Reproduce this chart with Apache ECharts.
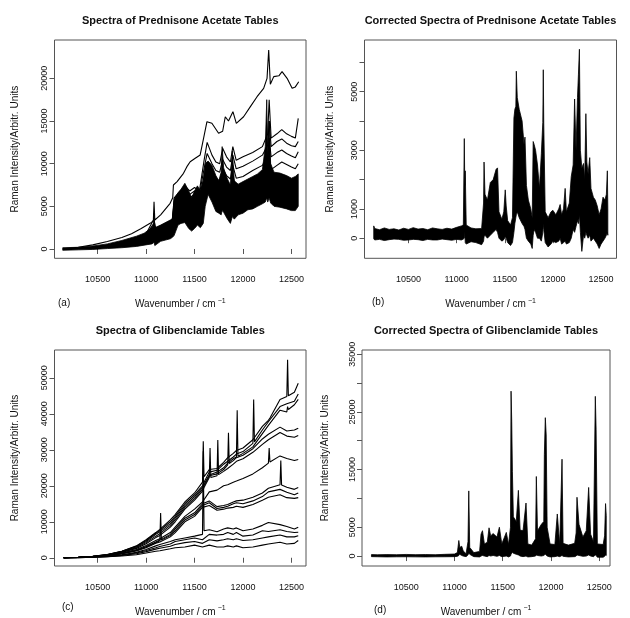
<!DOCTYPE html>
<html>
<head>
<meta charset="utf-8">
<script src="https://cdn.jsdelivr.net/npm/echarts@6/dist/echarts.min.js"></script>
<style>
html, body { margin: 0; padding: 0; background: #fff; }
#chart-container { width: 630px; height: 618px; }
</style>
</head>
<body>
<div id="chart-container"></div>
<script>
// ---- panel (a): raw spectra, prednisone acetate ----
// dense lower bundle of spectra, read as lower / upper envelope
const bandAX = [10140,10300,10450,10600,10750,10900,10980,11060,11075,11082,11090,11150,11250,11275,11290,11330,11360,11400,11440,11470,11500,11530,11560,11590,11610,11640,11680,11720,11750,11775,11785,11800,11840,11870,11890,11910,11950,12000,12050,12100,12150,12200,12230,12245,12255,12270,12285,12320,12380,12450,12500,12540,12570]
const bandALo = [-150,-100,-50,50,150,300,450,600,700,800,400,900,1200,1400,1600,2800,3000,3100,2400,2100,2400,2800,2500,3000,5000,6400,5500,4400,4200,4000,4500,4300,3500,3000,3800,3500,4000,4200,4600,4700,5000,5300,5500,6000,5500,6000,5400,5000,4900,4700,4500,4500,5000]
const bandAHi = [150,200,350,600,1000,1500,1850,2500,2600,4200,2500,2800,3400,3600,5900,6600,7000,7700,6800,6000,6800,7400,6800,8000,10000,10300,9800,8600,8000,9000,12000,9500,8200,7500,11500,8000,7600,7900,8200,8500,8800,9300,12000,17500,11000,15000,10000,9000,8900,8600,8300,8500,8800]
// the four spectra sitting above the bundle
const midAX = [11000,11080,11100,11270,11290,11400,11450,11500,11550,11600,11630,11680,11720,11760,11790,11830,11870,11895,11930,12000,12100,12200,12255,12270,12290,12350,12400,12450,12500,12540,12570]
const midA1 = [1800,3500,2400,3400,6000,7400,6800,7200,6800,10500,12500,11000,10200,10000,11800,10800,10200,12000,10400,10800,11300,12000,13500,17500,13000,13500,14000,13500,13200,13000,15300]
const midA2 = [1700,3000,2200,3200,5600,7000,6400,6800,6400,9500,11200,10000,9200,9000,10500,9600,9200,11000,9400,9700,10300,11000,12200,15000,12000,12600,12900,12400,12100,12000,12600]
const midA3 = [1600,2800,2000,3000,5200,6600,6000,6400,6000,8600,10200,9000,8200,8000,9400,8600,8200,9800,8300,8500,9200,9800,11000,13000,10800,11300,11600,11200,10900,10700,11400]
const midA4 = [1500,2600,1900,2800,4800,6200,5600,6000,5600,7600,9200,8000,7200,7000,8200,7500,7000,8500,7200,7300,7900,8500,9600,11500,9300,9800,10200,9900,9600,9400,10000]
// the highest spectrum
const topAX = [10145,10300,10450,10600,10750,10850,10950,11041,11075,11082,11090,11150,11248,11275,11282,11320,11386,11421,11455,11507,11558,11593,11628,11679,11748,11790,11817,11850,11896,11931,12006,12076,12145,12213,12248,12265,12282,12317,12370,12403,12455,12507,12540,12575]
const topAY = [30,200,480,880,1350,1800,2400,3010,3300,5540,3400,4000,5350,6000,7500,7900,8870,9650,10230,10630,11020,12970,14920,14730,13560,13800,15500,15000,16090,14730,15500,16680,17850,18830,20000,23320,19300,20200,20300,20780,20000,18830,19000,19600]

// ---- panel (b): corrected spectra, prednisone acetate (envelope) ----
const bandBX = [10140,10150,10200,10250,10300,10350,10400,10450,10500,10550,10600,10650,10700,10750,10800,10850,10900,10950,11000,11050,11070,11080,11085,11090,11100,11150,11200,11260,11280,11285,11295,11320,11350,11380,11410,11425,11440,11470,11490,11505,11515,11530,11560,11580,11595,11605,11615,11620,11630,11650,11680,11700,11710,11725,11745,11770,11785,11795,11805,11820,11840,11860,11880,11895,11900,11905,11920,11950,11980,12000,12030,12060,12075,12090,12110,12127,12140,12170,12190,12210,12225,12240,12255,12265,12275,12285,12300,12318,12330,12342,12352,12365,12382,12395,12420,12440,12460,12480,12500,12520,12540,12555,12565,12570]
const bandBLo = [-20,-60,-40,-80,-50,-30,-40,-70,-60,-40,-50,-80,-40,-60,-60,-30,-50,-70,-40,-60,-30,0,200,-150,-200,-120,-150,-220,-100,50,100,0,100,200,300,200,0,-100,-50,50,0,-150,-250,-150,200,500,700,800,900,700,500,400,300,0,-100,-200,-350,100,300,200,0,0,-100,200,500,300,-150,-300,-200,-100,-150,-100,0,-200,-150,-100,-200,-150,0,300,200,400,600,500,800,200,-450,100,0,200,100,0,100,-100,0,-100,-200,-350,-200,-100,0,100,200,100]
const bandBHi = [420,330,290,350,300,320,280,340,300,360,310,330,290,350,320,300,340,310,370,420,450,3400,1800,2300,450,350,320,330,1200,2600,1500,1300,1900,2000,2350,2400,900,650,900,1650,1100,600,450,700,4100,4400,4500,5700,4800,4400,4000,3200,3450,1800,1300,1000,700,3300,3200,3000,2500,1700,2900,3950,5750,3900,900,700,900,950,800,1000,1150,800,1000,1700,900,1200,2100,2500,4750,3000,4800,5600,6450,3000,2400,2550,2000,4250,2600,2200,2750,1700,1400,1300,1100,800,1000,1400,1300,1500,2300,1000]

// ---- panel (c): raw spectra, glibenclamide ----
const wnC = [10150,10300,10450,10600,10750,10900,11000,11100,11142,11150,11158,11250,11300,11400,11500,11582,11590,11598,11652,11660,11668,11732,11740,11748,11800,11842,11850,11858,11900,11932,11940,11948,12000,12102,12110,12118,12200,12262,12270,12278,12382,12390,12398,12452,12460,12468,12530,12570]
const specC1 = [0,150,400,900,1800,3300,5000,7000,7900,8000,8100,10500,12000,15500,18000,21000,32400,22500,24500,24500,24300,24800,25000,25100,26500,27800,28000,28200,29000,29800,30000,29800,30500,32800,33000,33200,36500,38200,38500,38800,44000,44500,44000,44800,55000,45000,46000,48500]
const specC2 = [0,150,400,900,1800,3200,4800,6800,7600,7700,7800,10000,11500,15000,17500,20000,20500,21000,23800,24000,23800,24300,24500,24600,26000,26800,27000,27200,28000,28800,29000,28800,29500,31800,44000,32200,35500,37800,38000,38200,42000,42500,42000,42800,43000,42500,43500,45500]
const specC3 = [0,140,380,850,1700,3000,4500,6500,7200,7300,7400,9500,11000,14500,17000,19500,20000,20500,23000,23500,23200,23800,24000,24100,25000,26300,26500,26700,27500,28000,41000,28200,29000,30800,31000,31200,34500,36800,37000,37200,41000,41500,41000,40500,42000,41200,42500,44000]
const specC4 = [0,120,350,800,1600,2800,4200,6000,6700,6800,6900,9000,10500,14000,16500,19000,19500,20000,22800,23000,22800,23300,23500,23600,24500,25800,34700,26200,27000,27800,28000,27800,28500,30300,30500,30700,33000,34300,34500,34700,36300,36500,36300,35200,35500,35200,35500,36000]
const specC5 = [0,120,330,750,1500,2600,3900,5600,6200,6300,6400,8500,10000,13500,16000,18500,19000,19500,22300,30500,22300,22800,32700,23100,24000,24800,25000,25200,26000,26800,27000,26800,27500,29300,29500,29700,31500,32800,33000,33200,34800,35000,34800,33800,34000,33700,33500,34000]
const specC6 = [0,100,300,650,1300,2300,3400,4800,5300,5400,5500,7000,8500,11500,13500,15500,15800,16000,18300,18500,18300,18800,19000,19100,20000,20300,20500,20700,21000,21300,21500,21300,22000,23300,23500,23700,25000,26300,30500,26600,28300,28500,28300,27600,27500,27300,27000,27300]
const specC7 = [0,90,280,600,1200,2100,3100,4400,4900,5000,5100,6500,8000,11000,12500,15000,15300,15500,15800,16000,15500,14200,14000,14100,14500,14800,15000,15200,15500,15800,16000,15800,16000,16800,17000,17200,18000,19300,19500,19600,20300,27000,20200,19600,19500,19300,19000,19500]
const specC8 = [0,90,270,580,1150,2000,3000,4200,4700,12400,4900,6200,7500,10500,12000,14500,14800,15000,15300,15500,15000,13700,13500,13600,14000,14300,14500,14700,15000,15300,15500,15200,15000,15800,16000,16200,17000,18300,18500,18600,19000,19000,18800,18200,18000,17800,17500,18000]
const specC9 = [0,80,260,550,1100,1900,2800,4000,4400,4500,4600,5800,7000,10000,11500,14000,14300,14500,14500,14500,14000,13200,13000,13100,13500,13800,14000,14000,14000,14300,14500,14200,14000,14800,15000,15200,16000,16800,17000,17000,17500,17500,17300,16700,16500,16500,16500,16700]
const specC10 = [0,60,200,420,850,1500,2300,3300,3700,3800,3900,4500,5000,5500,6000,6500,29600,7500,7800,8000,7500,7200,7500,7700,8000,8300,8500,8300,8000,8300,8500,8200,7500,8000,8300,8500,9000,9800,10000,9500,9200,9500,9000,8700,8500,8300,8000,8500]
const specC11 = [0,50,180,380,750,1300,2000,2800,3150,3200,3250,3800,4500,5000,5500,5000,5200,5500,6500,6300,6000,6300,6200,6500,6500,7000,7200,7000,6500,7000,6800,6500,6000,6300,6500,6800,7500,7300,7500,7400,7800,8000,7700,7300,7000,7000,7000,7100]
const specC12 = [0,40,150,320,650,1100,1700,2400,2650,2700,2750,3200,3700,4200,4500,4000,4200,4500,5000,5200,4800,4700,4800,4900,5000,5300,5500,5200,5000,5300,5500,5200,4800,5000,5200,5300,5500,5800,6000,6000,6300,6500,6300,5800,5500,5500,5800,6100]
const specC13 = [0,30,120,260,500,850,1300,1800,1950,2000,2050,2500,2800,3000,3500,3000,3200,3500,3500,3300,3000,3000,3000,3100,3000,3300,3500,3300,3000,3300,3500,3200,2800,3000,3300,3400,3500,3800,4000,4000,4300,4500,4300,3800,3500,3500,4000,4800]

// ---- panel (d): corrected spectra, glibenclamide (envelope) ----
const bandDX = [10140,10200,10300,10400,10500,10600,10700,10800,10900,11000,11030,11045,11055,11075,11090,11120,11140,11148,11158,11200,11260,11275,11290,11310,11340,11358,11375,11400,11440,11465,11490,11537,11560,11580,11586,11593,11600,11610,11640,11662,11680,11710,11741,11760,11800,11840,11848,11860,11900,11925,11931,11941,11950,11960,11990,12040,12065,12090,12114,12125,12180,12245,12260,12269,12290,12330,12365,12390,12410,12440,12459,12467,12480,12540,12555,12565,12572]
const bandDLo = [-100,-120,-150,-130,-120,-140,-150,-130,-120,-100,-50,100,300,100,0,-100,200,500,300,-100,-150,0,100,0,-100,100,0,100,-50,100,-100,0,-150,0,300,500,600,500,300,200,0,-100,0,-150,-100,0,200,100,0,100,200,300,200,0,-150,-100,0,-100,100,-50,-150,-100,0,200,100,-50,0,200,0,-100,200,100,-200,-200,-50,200,100]
const bandDHi = [250,220,250,230,280,240,260,230,300,350,600,2700,1500,1700,900,400,2500,11300,1500,600,800,3800,4400,2100,2400,4900,3500,3900,3300,5000,2100,4100,2000,5000,28600,23400,14700,6800,6000,11400,4500,4400,9200,2100,1900,3000,13800,4400,5500,6000,17600,24000,21000,5000,2100,2000,7300,2000,16800,2200,1900,2200,4000,10200,5500,3300,4400,11900,3800,2500,27700,22000,2100,2000,3500,9100,7000]

// ---- axes ----
const xTicks = [10500, 11000, 11500, 12000, 12500]
const yTicksA = [0, 5000, 10000, 15000, 20000]
const yTicksB = [0, 1000, 2000, 3000, 4000, 5000, 6000]
const yLabelsB = [0, 1000, 3000, 5000]
const yTicksC = [0, 10000, 20000, 30000, 40000, 50000]
const yTicksD = [0, 5000, 10000, 15000, 20000, 25000, 30000, 35000]
const yLabelsD = [0, 5000, 15000, 25000, 35000]

const titles = ['Spectra of Prednisone Acetate Tables', 'Corrected Spectra of Prednisone Acetate Tables',
  'Spectra of Glibenclamide Tables', 'Corrected Spectra of Glibenclamide Tables']
const tags = ['(a)', '(b)', '(c)', '(d)']

const FONT = '"Liberation Sans", Arial, Helvetica, sans-serif'
const INK = '#111'
const BOX = '#555'

// plot boxes as measured on the page
const boxes = [
  { left: 54.5, top: 40, width: 251.5, height: 218.3, xmin: 10055, xmax: 12650, ymin: -1090, ymax: 24495, yGap: 34, tag: [58, 303] },
  { left: 364.5, top: 40, width: 252, height: 218.3, xmin: 10044, xmax: 12660, ymin: -686, ymax: 6765, yGap: 29, tag: [372, 302] },
  { left: 54.5, top: 350, width: 251.5, height: 217.3, xmin: 10055, xmax: 12650, ymin: -2292, ymax: 57726, yGap: 34, tag: [62, 607] },
  { left: 362, top: 350, width: 248, height: 217.3, xmin: 10042, xmax: 12611, ymin: -1724, ymax: 35738, yGap: 32, tag: [374, 610] }
]
const yTickSets = [[yTicksA, yTicksA], [yTicksB, yLabelsB], [yTicksC, yTicksC], [yTicksD, yLabelsD]]

const xAxes = boxes.map((b, i) => ({
  type: 'value', gridIndex: i, min: b.xmin, max: b.xmax,
  axisLine: { show: false }, splitLine: { show: false },
  axisTick: { show: true, length: 5, lineStyle: { color: BOX, width: 1 }, customValues: xTicks },
  axisLabel: { customValues: xTicks, formatter: v => String(v), margin: 17, fontSize: 9, fontFamily: FONT, color: INK },
  name: 'Wavenumber / cm{sup|−1}', nameLocation: 'middle', nameGap: 39,
  nameTextStyle: { fontSize: 10, fontFamily: FONT, color: INK,
    rich: { sup: { fontSize: 7, fontFamily: FONT, color: INK, padding: [0, 0, 7, 2] } } }
}))

const yAxes = boxes.map((b, i) => ({
  type: 'value', gridIndex: i, min: b.ymin, max: b.ymax,
  axisLine: { show: false }, splitLine: { show: false },
  axisTick: { show: true, length: 5, lineStyle: { color: BOX, width: 1 }, customValues: yTickSets[i][0] },
  axisLabel: { customValues: yTickSets[i][1], formatter: v => String(v), rotate: 90, margin: 5, fontSize: 9, fontFamily: FONT, color: INK },
  name: 'Raman Intensity/Arbitr. Units', nameLocation: 'middle', nameGap: b.yGap,
  nameTextStyle: { fontSize: 10, fontFamily: FONT, color: INK }
}))

const lineSeries = (idx, xs, ys) => ({
  type: 'line', xAxisIndex: idx, yAxisIndex: idx, symbol: 'none', silent: true, clip: true,
  lineStyle: { color: '#000', width: 1.1 },
  data: xs.map((x, i) => [x, ys[i]])
})

// filled envelope between lower and upper traces
const bandSeries = (idx, xs, lo, hi) => ({
  type: 'custom', xAxisIndex: idx, yAxisIndex: idx, silent: true, clip: true,
  encode: { x: 0, y: [1, 2] },
  data: xs.map((x, i) => [x, lo[i], hi[i]]),
  renderItem: (params, api) => {
    if (params.dataIndex !== 0) return
    const upper = xs.map((x, i) => api.coord([x, hi[i]]))
    const lower = xs.map((x, i) => api.coord([x, lo[i]])).reverse()
    return {
      type: 'polygon', shape: { points: upper.concat(lower) },
      style: { fill: '#000', stroke: '#000', lineWidth: 0.8 }
    }
  }
})

const series = [
  bandSeries(0, bandAX, bandALo, bandAHi),
  lineSeries(0, midAX, midA1), lineSeries(0, midAX, midA2),
  lineSeries(0, midAX, midA3), lineSeries(0, midAX, midA4),
  lineSeries(0, topAX, topAY),
  bandSeries(1, bandBX, bandBLo, bandBHi),
  ...[specC1, specC2, specC3, specC4, specC5, specC6, specC7, specC8, specC9, specC10, specC11, specC12, specC13]
    .map(s => lineSeries(2, wnC, s)),
  bandSeries(3, bandDX, bandDLo, bandDHi)
]

const graphic = []
boxes.forEach((b, i) => {
  graphic.push({ type: 'text', x: b.left + b.width / 2, y: b.top - 19,
    style: { text: titles[i], font: 'bold 11px ' + FONT, fill: INK, align: 'center', verticalAlign: 'middle' } })
  graphic.push({ type: 'text', x: b.tag[0], y: b.tag[1],
    style: { text: tags[i], font: '10px ' + FONT, fill: INK, align: 'left', verticalAlign: 'middle' } })
})

const myChart = echarts.init(document.getElementById('chart-container'))
const option = {
  animation: false,
  backgroundColor: '#fff',
  grid: boxes.map(b => ({ left: b.left, top: b.top, width: b.width, height: b.height,
    show: true, borderColor: BOX, borderWidth: 1, backgroundColor: 'transparent' })),
  xAxis: xAxes,
  yAxis: yAxes,
  graphic: graphic,
  series: series
}
option && myChart.setOption(option)
</script>
</body>
</html>
